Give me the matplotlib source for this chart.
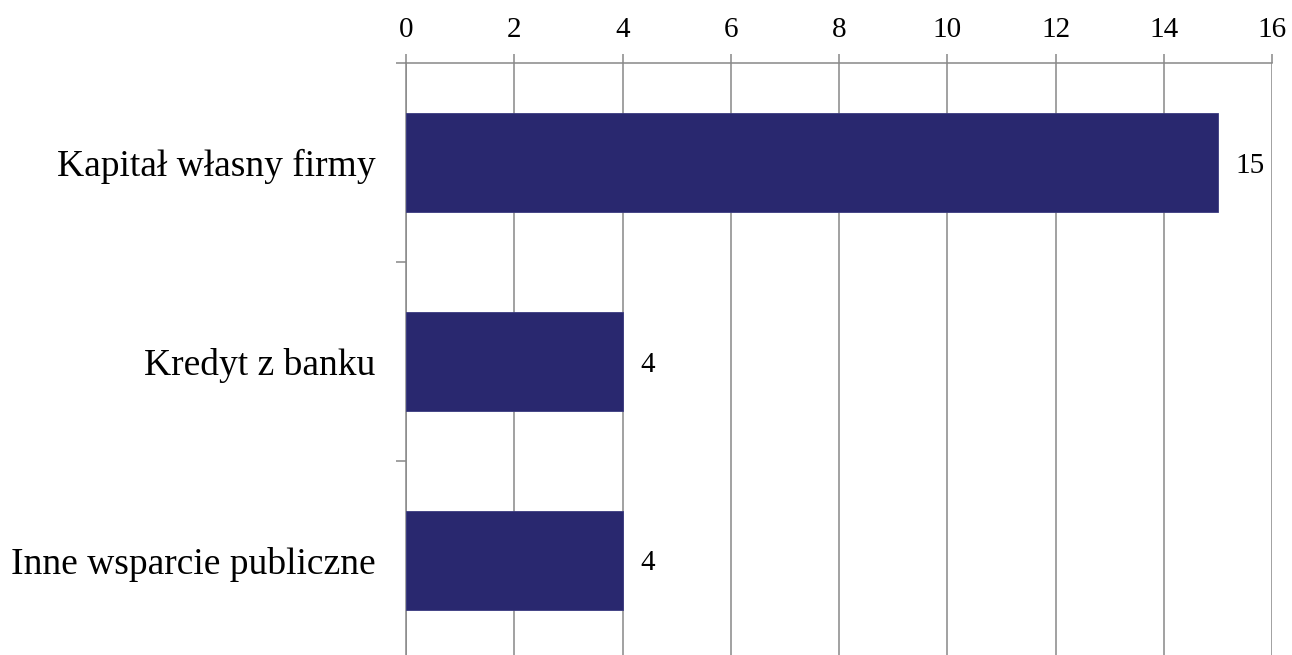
import matplotlib.pyplot as plt
import numpy as np

categories = ["Kapitał własny firmy", "Kredyt z banku", "Inne wsparcie publiczne"]
values = [15, 4, 4]
xticks = [0, 2, 4, 6, 8, 10, 12, 14, 16]

plt.rcParams['font.family'] = ['Liberation Serif', 'DejaVu Serif']

bar_color = '#29286f'
line_color = '#888888'

fig = plt.figure(figsize=(12.92, 6.55), dpi=100)
ax = fig.add_axes([406 / 1292, 1 - 660 / 655, 866 / 1292, 597 / 655])

y = np.arange(len(categories))
ax.barh(y, values, height=0.5, color=bar_color, edgecolor='#3a3a80', linewidth=0.6, zorder=3)

for yi, v in zip(y, values):
    ax.text(v + 0.33, yi, str(v), va='center_baseline', ha='left', fontsize=21)

ax.set_xlim(0, 16)
ax.set_ylim(2.5, -0.5)
ax.set_xticks(xticks)
ax.xaxis.tick_top()
ax.tick_params(axis='x', length=6.5, width=1.1, color=line_color, labelsize=21, pad=8)
ax.grid(axis='x', color=line_color, linewidth=1.1, zorder=0)

ax.set_yticks(y)
ax.set_yticklabels(categories, fontsize=27)
ax.tick_params(axis='y', which='major', length=0, pad=22)
ax.set_yticks([-0.5, 0.5, 1.5], minor=True)
ax.tick_params(axis='y', which='minor', length=7.5, width=1.1, color=line_color)

for side in ['right', 'bottom']:
    ax.spines[side].set_visible(False)
for side in ['top', 'left']:
    ax.spines[side].set_color(line_color)
    ax.spines[side].set_linewidth(1.1)

fig.savefig('out.png', dpi=100)
